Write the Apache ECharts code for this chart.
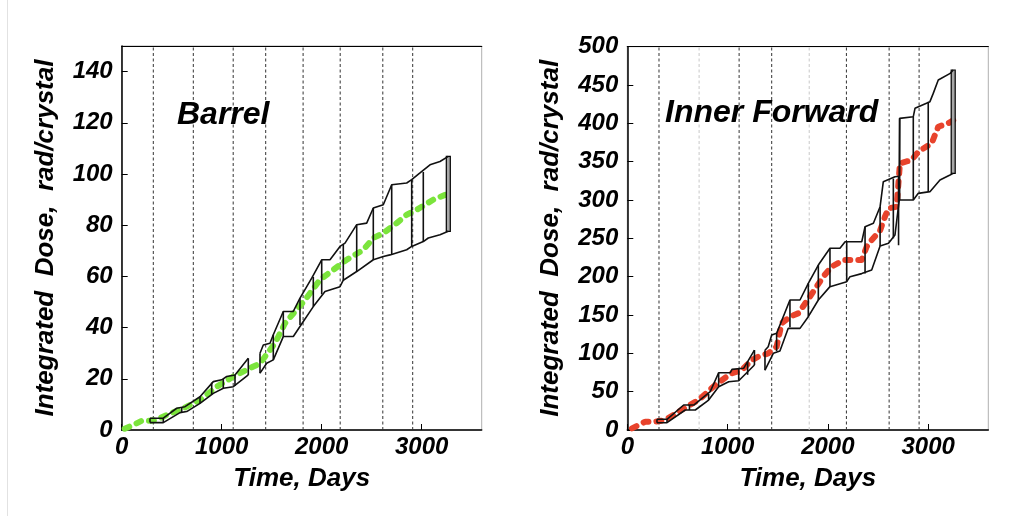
<!DOCTYPE html>
<html>
<head>
<meta charset="utf-8">
<script src="https://cdn.jsdelivr.net/npm/echarts@6/dist/echarts.min.js"></script>
<style>
html,body{margin:0;padding:0;background:#fff;}
#chart{width:1014px;height:516px;}
</style>
</head>
<body>
<div id="chart"></div>
<script>
// ---- Data: integrated dose (rad/crystal) vs. time (days) ----
const xTickLabels = [0, 1000, 2000, 3000];
const barrelYTicks = [0, 20, 40, 60, 80, 100, 120, 140];
const forwardYTicks = [0, 50, 100, 150, 200, 250, 300, 350, 400, 450, 500];

// Run period boundaries (days), drawn as dotted verticals
const runBoundaries = [316, 716, 1115, 1440, 1814, 2185, 2611, 2910];

// Barrel: projected central dose
const barrelCentral = [
  [30,0.5],[117,2],[200,3.6],[280,3.6],[346,3.9],[450,5.9],[617,8.5],[783,11.7],
  [950,16.9],[1117,20.9],[1250,23.5],[1317,24.8],[1383,26],[1533,33.9],[1633,41.7],
  [1833,50.8],[1983,58.7],[2117,62.6],[2250,66.5],[2417,70.4],[2516,75],[2617,76.9],
  [2750,80.8],[2850,84.1],[2950,86],[3117,90],[3283,92.6]
];
// Barrel: upper / lower envelope, first and second running blocks
const barrelUpperA = [[283,4.6],[416,4.6],[550,8.5],[633,9.1],[783,13],[916,18.9],[1000,19.6],[1050,20.9],[1133,21.5],[1266,28]];
const barrelLowerA = [[283,2.9],[416,2.9],[583,6.8],[650,7.2],[783,10.4],[916,14.3],[1016,16.3],[1116,16.9],[1266,21.5]];
const barrelUpperB = [
  [1383,30],[1416,33.2],[1483,33.9],[1516,37.2],[1616,46.3],[1716,46.3],[1783,51.5],
  [1900,59.3],[2000,66.5],[2083,66.5],[2183,71.7],[2233,73],[2350,80.2],[2450,80.8],
  [2516,86.7],[2616,88],[2700,95.8],[2850,96.5],[2900,97.8],[2983,100.4],[3083,103.6],
  [3183,104.9],[3266,106.9]
];
const barrelLowerB = [
  [1383,22.2],[1450,26.1],[1516,27.4],[1616,36.5],[1716,36.5],[1816,42.4],[1916,48.2],
  [2033,54.1],[2183,56],[2216,58.5],[2350,61.9],[2516,66.5],[2616,67.8],[2683,68.4],
  [2850,70.4],[2900,71.7],[3016,73.6],[3066,75],[3183,76.3],[3266,77.6]
];
// Barrel: vertical connectors [day, low, high]
const barrelConnectors = [
  [283,2.9,4.6],[416,2.9,4.6],[600,6.9,8.9],[783,10.4,13],[900,13.8,18.5],[1016,16.3,19.9],
  [1133,17.2,21.5],[1266,21.5,28],
  [1383,22.2,30],[1516,27.4,37.2],[1616,36.5,46.3],[1783,41,51.5],[1916,48.2,59.8],
  [2000,53,66.5],[2216,58.5,72.7],[2350,61.9,80.2],[2516,66.5,86.7],[2700,68.6,95.8],
  [2900,71.7,97.8],[3016,73.6,100.8],[3266,77.6,106.9]
];

// Inner Forward: projected central dose
const forwardCentral = [
  [47,2.2],[180,10.9],[279,10.9],[379,13],[512,23.9],[592,30.4],[712,39.1],[877,58.7],
  [991,69.5],[1044,74],[1143,78.3],[1243,91.3],[1306,95.6],[1405,100],[1489,108.6],
  [1539,139.1],[1622,147.8],[1705,152.2],[1821,173.9],[1954,200],[2038,213],[2154,221.7],
  [2237,221.7],[2337,221.7],[2387,239.1],[2437,247.8],[2520,260],[2569,278.2],[2603,289.1],
  [2686,291.3],[2719,347.8],[2836,352.2],[2902,363],[3035,373.9],[3101,395.6],[3200,400],
  [3267,405.2]
];
const forwardUpperA = [[296,14],[396,14],[562,32.6],[662,32.6],[827,50],[911,74.7],[1027,74.7],[1044,79.1],[1160,80.5],[1268,104.3]];
const forwardLowerA = [[296,9.5],[396,9.5],[578,26.1],[678,26.1],[811,39.1],[911,56.5],[1011,63],[1111,64.3],[1268,84.8]];
const forwardUpperB = [
  [1373,104],[1405,108.7],[1440,123.9],[1489,126.1],[1622,169.6],[1722,169.6],[1805,191.3],
  [1905,215.2],[2021,237],[2121,237],[2172,245.6],[2338,245.6],[2371,265.2],[2454,269.6],
  [2521,291.3],[2553,323.9],[2669,330.4],[2712,331],[2716,406.5],[2852,408.7],[2869,419.6],
  [3018,428.3],[3051,439.1],[3101,456.5],[3220,465.2],[3250,469.6]
];
const forwardLowerB = [
  [1373,78],[1456,100],[1522,103],[1605,132.6],[1722,132.6],[1805,147.8],[1905,169.6],
  [2021,187],[2188,193.5],[2221,200],[2338,204],[2437,208.7],[2521,240],[2605,243.5],
  [2669,254.3],[2712,300],[2852,300],[2902,308.7],[3018,310.9],[3118,326],[3218,332.6],
  [3250,334.8]
];
const forwardConnectors = [
  [296,9.5,14],[396,9.5,14],[620,26.1,32.6],[811,39.1,47],[911,56.5,74.7],[1111,64.3,80.5],
  [1200,72,90],[1268,84.8,104.3],
  [1373,78,104],[1489,103,126.1],[1622,134,169.6],[1805,147.8,191.3],[1905,169.6,215.2],
  [2021,187,237],[2188,193.5,245.6],[2371,204,265.2],[2521,240,291.3],[2653,250,328],
  [2705,241,331],[2716,300,406.5],[2852,300,408.7],[3001,310.9,428],[3250,334.8,469.6]
];

// ---- Styling ----
const FONT = '"Liberation Sans", Arial, Helvetica, sans-serif';
const textBase = { fontFamily: FONT, fontWeight: 'bold', fontStyle: 'italic', color: '#000' };

const chart = echarts.init(document.getElementById('chart'), null, { renderer: 'canvas' });

const grids = [
  { left: 121.7, top: 46, width: 360, height: 384 },
  { left: 627.3, top: 46.7, width: 361, height: 383.3 }
];

function xAxisFor(gi) {
  return {
    type: 'value', gridIndex: gi, min: 0, max: 3600, interval: 1000,
    name: 'Time, Days', nameLocation: 'middle', nameGap: 36,
    nameTextStyle: Object.assign({ fontSize: 26 }, textBase),
    axisLine: { lineStyle: { color: '#000', width: 1.5 } },
    axisTick: { inside: true, length: 6, lineStyle: { color: '#000' } },
    axisLabel: Object.assign({ fontSize: 24, margin: 5, showMaxLabel: false,
      formatter: v => (xTickLabels.indexOf(v) >= 0 ? String(v) : '') }, textBase),
    splitLine: { show: false }
  };
}
function topAxisFor(gi) {
  return {
    type: 'value', gridIndex: gi, position: 'top', min: 0, max: 3600,
    axisLine: { show: true, lineStyle: { color: '#000', width: 1.2 } },
    axisTick: { show: false }, axisLabel: { show: false }, splitLine: { show: false }
  };
}
function yAxisFor(gi, max, interval, ticks, showMax) {
  return {
    type: 'value', gridIndex: gi, min: 0, max: max, interval: interval,
    name: 'Integrated  Dose,  rad/crystal', nameLocation: 'middle', nameGap: 63, nameRotate: 90,
    nameTextStyle: Object.assign({ fontSize: 26 }, textBase),
    axisLine: { show: true, lineStyle: { color: '#000', width: 1.5 } },
    axisTick: { inside: true, length: 6, lineStyle: { color: '#000' } },
    axisLabel: Object.assign({ fontSize: 24, margin: 9, showMaxLabel: showMax,
      formatter: v => (ticks.indexOf(v) >= 0 ? String(v) : '') }, textBase),
    splitLine: { show: false }
  };
}

function boundarySeries(xi, yi, yMax, lightIdx) {
  return {
    type: 'custom', xAxisIndex: xi, yAxisIndex: yi, silent: true, z: 1,
    data: runBoundaries.map(d => [d, 0]),
    encode: { x: 0, y: 1 },
    renderItem: (params, api) => {
      const a = api.coord([api.value(0), 0]);
      const b = api.coord([api.value(0), yMax]);
      const light = lightIdx.indexOf(params.dataIndex) >= 0;
      return { type: 'line', shape: { x1: a[0], y1: a[1], x2: b[0], y2: b[1] },
        style: { stroke: light ? '#c8c8c8' : '#333', lineWidth: 1, lineDash: [3, 2.5] } };
    }
  };
}
function connectorSeries(xi, yi, data) {
  return {
    type: 'custom', xAxisIndex: xi, yAxisIndex: yi, silent: true, z: 4,
    data: data, encode: { x: 0, y: [1, 2] },
    renderItem: (params, api) => {
      const lo = api.coord([api.value(0), api.value(1)]);
      const hi = api.coord([api.value(0), api.value(2)]);
      if (params.dataIndex === data.length - 1) {
        return { type: 'rect', shape: { x: lo[0] - 2, y: hi[1], width: 4, height: lo[1] - hi[1] },
          style: { fill: '#a8a8a8', stroke: '#000', lineWidth: 1.2 } };
      }
      return { type: 'line', shape: { x1: lo[0], y1: lo[1], x2: hi[0], y2: hi[1] },
        style: { stroke: '#111', lineWidth: 1.6 } };
    }
  };
}
function envelope(xi, yi, data) {
  return { type: 'line', xAxisIndex: xi, yAxisIndex: yi, data: data, symbol: 'none',
    silent: true, z: 4, lineStyle: { color: '#111', width: 1.6 } };
}
function central(xi, yi, data, color) {
  return { type: 'line', xAxisIndex: xi, yAxisIndex: yi, data: data, symbol: 'none',
    silent: true, z: 3, lineStyle: { color: color, width: 6, type: [5, 8], cap: 'round', join: 'round' } };
}

const option = {
  animation: false,
  backgroundColor: '#fff',
  grid: grids.map(g => Object.assign({ show: true, borderColor: '#b0b0b0', borderWidth: 1, backgroundColor: 'transparent' }, g)),
  title: [
    { text: 'Barrel', left: 172, top: 94, textStyle: Object.assign({ fontSize: 32 }, textBase) },
    { text: 'Inner Forward', left: 660, top: 92, textStyle: Object.assign({ fontSize: 32 }, textBase) }
  ],
  xAxis: [xAxisFor(0), xAxisFor(1), topAxisFor(0), topAxisFor(1)],
  yAxis: [
    yAxisFor(0, 150, 20, barrelYTicks, false),
    yAxisFor(1, 500, 50, forwardYTicks, true)
  ],
  graphic: [
    { type: 'line', shape: { x1: 7.5, y1: 0, x2: 7.5, y2: 516 }, style: { stroke: '#e2e2e2', lineWidth: 1 }, silent: true }
  ],
  series: [
    boundarySeries(0, 0, 150, []),
    central(0, 0, barrelCentral, '#7be43c'),
    envelope(0, 0, barrelUpperA), envelope(0, 0, barrelLowerA),
    envelope(0, 0, barrelUpperB), envelope(0, 0, barrelLowerB),
    connectorSeries(0, 0, barrelConnectors),

    boundarySeries(1, 1, 500, [1, 4]),
    central(1, 1, forwardCentral, '#e8432c'),
    envelope(1, 1, forwardUpperA), envelope(1, 1, forwardLowerA),
    envelope(1, 1, forwardUpperB), envelope(1, 1, forwardLowerB),
    connectorSeries(1, 1, forwardConnectors)
  ]
};
chart.setOption(option);
</script>
</body>
</html>
